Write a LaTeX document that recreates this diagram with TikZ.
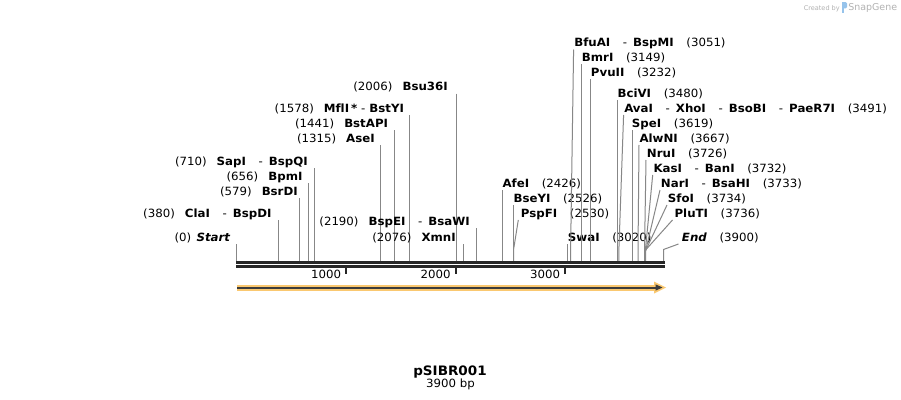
\documentclass[tikz,border=0pt]{standalone}
\usepackage{fontspec}
\setmainfont{DejaVu Sans}[Ligatures=CommonOff, FakeStretch=1.04]
\newfontfamily\logofont{DejaVu Sans}
\definecolor{axiscol}{RGB}{38,38,38}
\definecolor{sitecol}{RGB}{135,135,135}
\definecolor{featfill}{RGB}{250,200,112}
\definecolor{featline}{RGB}{60,60,60}
\definecolor{logogray}{RGB}{178,178,178}
\definecolor{logoblue}{RGB}{150,195,235}
\newcommand{\mylgap}{\hspace{7.5pt}}
\newcommand{\myrgap}{\hspace{9.5pt}}
\newcommand{\mydash}{\hspace{9.5pt}-\hspace{4.5pt}}
\newcommand{\mylsite}[5]{%
  \node[lab, anchor=base east] (#1) at (#4,#3+4) {#5};
  \coordinate (#1-top) at (#2,#3+7);
  \coordinate (#1-bot) at (#2,261);
  \draw[site] (#1-top) -- (#1-bot);}
\newcommand{\myrsite}[7]{%
  \node[lab, anchor=base west] (#1) at (#4,#3+4) {#7};
  \coordinate (#1-top) at (#5,#3+7);
  \coordinate (#1-bend) at (#2,#6);
  \coordinate (#1-bot) at (#2,261);
  \draw[site] (#1-top) -- (#1-bend) -- (#1-bot);}
\begin{document}
\begin{tikzpicture}[x=0.75pt,y=-0.75pt,
  lab/.style={inner sep=0pt, font=\fontsize{8.5pt}{10pt}\selectfont, text=black},
  site/.style={draw=sitecol, line width=0.75pt},
  axisline/.style={draw=axiscol, line width=2.25pt},
  tickmark/.style={draw=axiscol, line width=1.5pt}]
\useasboundingbox (0,0) rectangle (901,400);
\fill[white] (0,0) rectangle (901,400);

% left-hand sites
\mylsite{start}{236.5}{237}{230.7}{(0)\hspace{4pt}\textbf{\textit{Start}}}
\mylsite{clai}{278.1}{213}{271.7}{(380)\mylgap\textbf{ClaI}\mydash\textbf{BspDI}}
\mylsite{bsrdi}{299.9}{191}{298}{(579)\mylgap\textbf{BsrDI}}
\mylsite{bpmi}{308.3}{176}{302.7}{(656)\mylgap\textbf{BpmI}}
\mylsite{sapi}{314.2}{161}{308}{(710)\mylgap\textbf{SapI}\mydash\textbf{BspQI}}
\mylsite{asei}{380.5}{138}{375}{(1315)\mylgap\textbf{AseI}}
\mylsite{bstapi}{394.3}{123}{388.3}{(1441)\mylgap\textbf{BstAPI}}
\mylsite{mfli}{409.3}{108}{404.3}{(1578)\mylgap\textbf{MflI\,*}\hspace{3pt}-\hspace{3pt}\textbf{BstYI}}
\mylsite{bsu}{456.2}{86.5}{448}{(2006)\mylgap\textbf{Bsu36I}}
\mylsite{bspei}{476.3}{221}{470}{(2190)\mylgap\textbf{BspEI}\mydash\textbf{BsaWI}}
\mylsite{xmni}{463.8}{237}{456}{(2076)\mylgap\textbf{XmnI}}

% right-hand sites
\myrsite{afei}{502.1}{183}{502.3}{502.1}{190}{\textbf{AfeI}\myrgap(2426)}
\myrsite{bseyi}{513.1}{198}{513.3}{513.1}{205}{\textbf{BseYI}\myrgap(2526)}
\myrsite{pspfi}{513.5}{213}{520.7}{518.3}{250}{\textbf{PspFI}\myrgap(2530)}
\myrsite{swai}{567.2}{237}{567.7}{567.2}{244}{\textbf{SwaI}\myrgap(3020)}
\myrsite{bfuai}{570.6}{42.5}{574}{573.6}{250}{\textbf{BfuAI}\mydash\textbf{BspMI}\myrgap(3051)}
\myrsite{bmri}{581.3}{57}{581.7}{581.3}{64}{\textbf{BmrI}\myrgap(3149)}
\myrsite{pvuii}{590.4}{72}{590.7}{590.4}{79}{\textbf{PvuII}\myrgap(3232)}
\myrsite{bcivi}{617.6}{93}{617.3}{617.6}{100}{\textbf{BciVI}\myrgap(3480)}
\myrsite{avai}{618.8}{108}{624}{623.6}{252}{\textbf{AvaI}\mydash\textbf{XhoI}\mydash\textbf{BsoBI}\mydash\textbf{PaeR7I}\myrgap(3491)}
\myrsite{spei}{632.8}{123}{631.7}{632.8}{130}{\textbf{SpeI}\myrgap(3619)}
\myrsite{alwni}{638.0}{138}{639.3}{639}{252}{\textbf{AlwNI}\myrgap(3667)}
\myrsite{nrui}{644.5}{153}{646.7}{646}{252}{\textbf{NruI}\myrgap(3726)}
\myrsite{kasi}{645.2}{168}{653.3}{652.7}{252}{\textbf{KasI}\mydash\textbf{BanI}\myrgap(3732)}
\myrsite{nari}{645.3}{183}{660.7}{660}{252}{\textbf{NarI}\mydash\textbf{BsaHI}\myrgap(3733)}
\myrsite{sfoi}{645.4}{198}{667.7}{667}{251}{\textbf{SfoI}\myrgap(3734)}
\myrsite{pluti}{645.6}{213}{674.3}{672.5}{250}{\textbf{PluTI}\myrgap(3736)}
\myrsite{end}{663.5}{237}{681.7}{678.5}{249.5}{\textbf{\textit{End}}\myrgap(3900)}

% axis
\coordinate (axA1) at (236,262.5); \coordinate (axB1) at (665,262.5);
\coordinate (axA2) at (236,266.5); \coordinate (axB2) at (665,266.5);
\draw[axisline] (axA1) -- (axB1);
\draw[axisline] (axA2) -- (axB2);
\foreach \t/\xx/\lab in {t1/346/1000, t2/455.5/2000, t3/565/3000}{
  \coordinate (\t-a) at (\xx,267.5);
  \coordinate (\t-b) at (\xx,274.3);
  \draw[tickmark] (\t-a) -- (\t-b);
  \node[lab, anchor=base east] (\t-lab) at (\xx-4.5,278) {\lab};
}

% feature arrow
\coordinate (fA) at (237,287.5); \coordinate (fB) at (657,287.5);
\draw[featfill, line width=4.5pt] (fA) -- (fB);
\fill[featfill] (654,281.5) -- (666,287.5) -- (654,293.5) -- cycle;
\coordinate (gB) at (657,287.5);
\draw[featline, line width=1.5pt] (fA) -- (gB);
\fill[featline] (655.5,284.3) -- (662.5,287.5) -- (655.5,290.7) -- cycle;

% title
\node[inner sep=0pt, anchor=base, font=\bfseries\fontsize{9.75pt}{12pt}\selectfont] (title) at (450,375) {pSIBR001};
\node[lab, anchor=base] (size) at (450.5,387) {3900 bp};

% logo
\node[inner sep=0pt, anchor=base east, text=logogray, font=\logofont\fontsize{4.9pt}{6pt}\selectfont] (createdby) at (840,10) {Created by};
\fill[logoblue, rounded corners=0.8pt] (842,2.2) rectangle (847,8.3);
\fill[logoblue] (842,2.2) rectangle (844.2,12.5);
\node[inner sep=0pt, anchor=base west, text=logogray, font=\logofont\fontsize{7.1pt}{8pt}\selectfont] (snapgene) at (848,10.8) {SnapGene};
\end{tikzpicture}
\end{document}
